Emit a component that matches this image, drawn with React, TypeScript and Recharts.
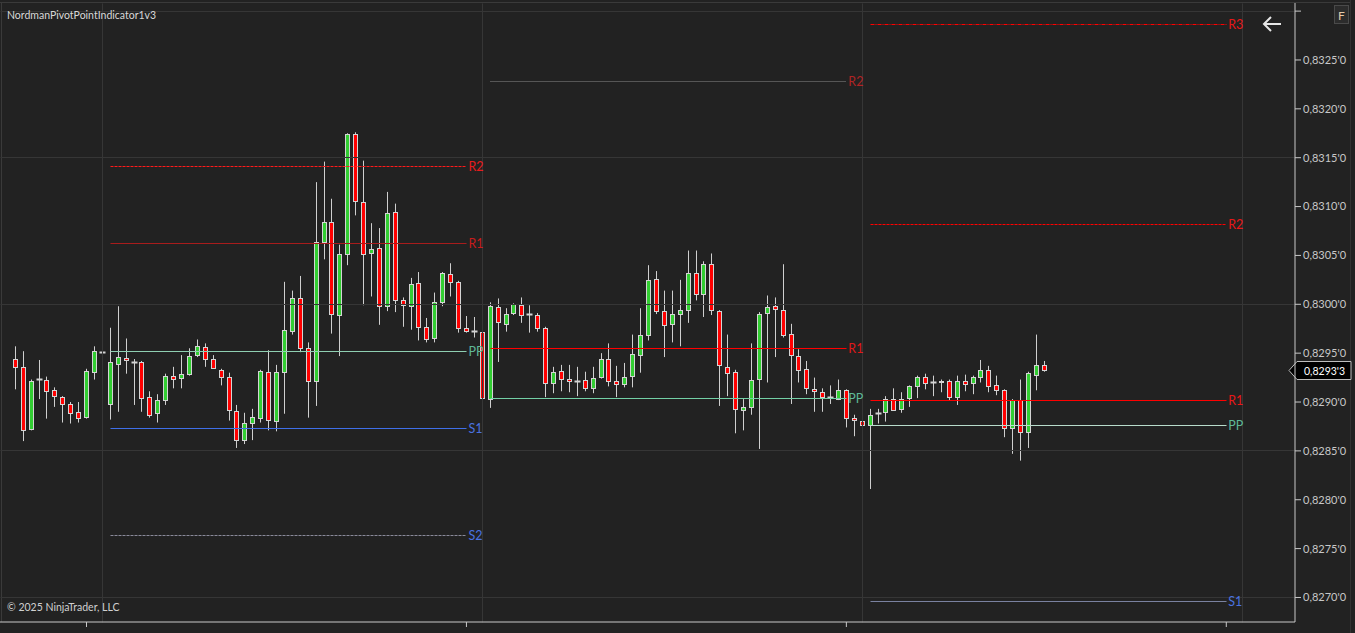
import React from 'react';
import { ComposedChart, Bar, XAxis, YAxis, ReferenceLine } from 'recharts';

// 30 minute bars (price units)
const opens = [
  0.82944, 0.82936, 0.82872, 0.82924, 0.82923, 0.82912, 0.82905, 0.82898, 0.8289, 0.82885,
  0.82931, 0.82951, 0.82898, 0.82939, 0.82945, 0.82941, 0.82941, 0.82905, 0.82889, 0.82902,
  0.82927, 0.82925, 0.82929, 0.82948, 0.82956, 0.82944, 0.82933, 0.82926, 0.82891, 0.82861,
  0.82879, 0.82884, 0.82931, 0.82881, 0.82931, 0.82973, 0.83006, 0.82955, 0.82922, 0.83064,
  0.83084, 0.82989, 0.83051, 0.83174, 0.83105, 0.83052, 0.83058, 0.82998, 0.83094, 0.83004,
  0.82998, 0.83022, 0.82977, 0.82965, 0.83002, 0.83031, 0.83023, 0.82976, 0.82973, 0.82972,
  0.82903, 0.82997, 0.8298, 0.82991, 0.82999, 0.8299, 0.82989, 0.82976, 0.82919, 0.82932,
  0.82924, 0.82922, 0.82923, 0.82914, 0.82926, 0.82944, 0.82922, 0.82918, 0.82927, 0.82948,
  0.82969, 0.83026, 0.82993, 0.8298, 0.8299, 0.82994, 0.83032, 0.83011, 0.83041, 0.82993,
  0.82936, 0.82931, 0.82892, 0.82895, 0.82924, 0.82991, 0.82998, 0.82994, 0.8297, 0.82947,
  0.82934, 0.82913, 0.8291, 0.82905, 0.82903, 0.82912, 0.82884, 0.82881, 0.82876, 0.82889,
  0.8289, 0.82903, 0.82893, 0.82904, 0.82916, 0.82926, 0.8292, 0.8292, 0.82922, 0.82905,
  0.82922, 0.82919, 0.82926, 0.82933, 0.82917, 0.82912, 0.82873, 0.82902, 0.82869, 0.82928,
  0.82938,
];
const highs = [
  0.82957, 0.82952, 0.82923, 0.82943, 0.82926, 0.82915, 0.82906, 0.829, 0.829, 0.82934,
  0.82957, 0.82985, 0.82976, 0.82998, 0.82965, 0.82944, 0.82942, 0.82911, 0.82908, 0.82929,
  0.82936, 0.82948, 0.82955, 0.82964, 0.8296, 0.82948, 0.82934, 0.8293, 0.82897, 0.82889,
  0.82893, 0.82933, 0.82953, 0.82938, 0.83023, 0.83014, 0.83029, 0.82961, 0.83125, 0.83146,
  0.83108, 0.83061, 0.83175, 0.83176, 0.83147, 0.83083, 0.83078, 0.83115, 0.83103, 0.83007,
  0.83027, 0.83033, 0.82986, 0.83012, 0.83033, 0.83042, 0.83024, 0.82988, 0.82987, 0.82993,
  0.83002, 0.83006, 0.82996, 0.83001, 0.83007, 0.82999, 0.82991, 0.82977, 0.82936, 0.82938,
  0.82938, 0.82936, 0.82931, 0.82936, 0.8295, 0.8296, 0.82937, 0.8294, 0.82969, 0.82996,
  0.8304, 0.83034, 0.83014, 0.83014, 0.83025, 0.83055, 0.83055, 0.83044, 0.83052, 0.82994,
  0.82969, 0.82933, 0.82903, 0.8296, 0.82992, 0.83009, 0.83007, 0.83041, 0.8298, 0.82954,
  0.82942, 0.82925, 0.82914, 0.82917, 0.82923, 0.82913, 0.82887, 0.82883, 0.82893, 0.82893,
  0.82906, 0.82914, 0.8291, 0.82917, 0.82927, 0.82929, 0.82927, 0.82923, 0.82923, 0.82927,
  0.82928, 0.82927, 0.82943, 0.82937, 0.82927, 0.82913, 0.82903, 0.82923, 0.82931, 0.82969,
  0.82942,
];
const lows = [
  0.82913, 0.8286, 0.82871, 0.82903, 0.82883, 0.82895, 0.82879, 0.82878, 0.82879, 0.82883,
  0.82923, 0.82939, 0.82882, 0.8289, 0.82929, 0.82897, 0.8289, 0.82884, 0.82879, 0.82897,
  0.82914, 0.82914, 0.82927, 0.82946, 0.82936, 0.82934, 0.82917, 0.82881, 0.82853, 0.82857,
  0.82861, 0.82879, 0.82871, 0.8287, 0.82888, 0.82969, 0.82951, 0.82884, 0.82896, 0.83046,
  0.8297, 0.82947, 0.8304, 0.83091, 0.82999, 0.83008, 0.82979, 0.82993, 0.82992, 0.82977,
  0.82974, 0.82963, 0.82961, 0.82961, 0.82998, 0.83008, 0.82971, 0.82971, 0.82966, 0.82903,
  0.82894, 0.82941, 0.82972, 0.82989, 0.82981, 0.82971, 0.82972, 0.82905, 0.82909, 0.82911,
  0.8291, 0.82906, 0.82911, 0.82909, 0.82924, 0.82916, 0.82905, 0.82915, 0.82915, 0.8293,
  0.82963, 0.8299, 0.82946, 0.82961, 0.82957, 0.82981, 0.83004, 0.82987, 0.82989, 0.82896,
  0.82906, 0.82868, 0.82871, 0.82887, 0.82852, 0.8292, 0.82946, 0.82966, 0.82898, 0.8292,
  0.82908, 0.8289, 0.8289, 0.82898, 0.82902, 0.82874, 0.82865, 0.8286, 0.82811, 0.82878,
  0.8288, 0.82891, 0.82889, 0.82895, 0.82904, 0.82913, 0.82906, 0.8291, 0.82902, 0.82897,
  0.82911, 0.82908, 0.8292, 0.8291, 0.82907, 0.82864, 0.82847, 0.8284, 0.82853, 0.82912,
  0.82931,
];
const closes = [
  0.82936, 0.82871, 0.82922, 0.82924, 0.82911, 0.82906, 0.82898, 0.82889, 0.82884, 0.82932,
  0.82952, 0.82951, 0.82941, 0.82946, 0.82943, 0.82941, 0.82904, 0.82887, 0.82902, 0.82927,
  0.82924, 0.82929, 0.82947, 0.82957, 0.82944, 0.82935, 0.82926, 0.82892, 0.82861, 0.82879,
  0.82885, 0.82932, 0.82882, 0.82931, 0.82974, 0.83006, 0.82955, 0.82921, 0.83064, 0.83084,
  0.8299, 0.83051, 0.83174, 0.83106, 0.83051, 0.83057, 0.82998, 0.83093, 0.83004, 0.82999,
  0.83021, 0.82977, 0.82964, 0.83002, 0.83032, 0.83023, 0.82976, 0.82973, 0.82973, 0.82904,
  0.82998, 0.82982, 0.8299, 0.83, 0.82989, 0.8299, 0.82976, 0.82919, 0.82931, 0.82924,
  0.82922, 0.82922, 0.82914, 0.82925, 0.82944, 0.82922, 0.82918, 0.82926, 0.82949, 0.82969,
  0.83025, 0.82993, 0.82979, 0.8299, 0.82994, 0.83032, 0.83011, 0.83041, 0.82994, 0.82938,
  0.8293, 0.82893, 0.82895, 0.82923, 0.8299, 0.82997, 0.82995, 0.82969, 0.82948, 0.82933,
  0.82914, 0.82911, 0.82905, 0.82905, 0.82912, 0.82884, 0.82882, 0.82876, 0.82887, 0.82889,
  0.82903, 0.82892, 0.82903, 0.82916, 0.82926, 0.82919, 0.8292, 0.82922, 0.82905, 0.82922,
  0.82918, 0.82926, 0.82933, 0.82916, 0.82912, 0.82873, 0.82902, 0.82869, 0.8293, 0.82938,
  0.82933,
];

// daily pivot levels, one column per level name
const pivotNames = ['R3', 'R2', 'R1', 'PP', 'S1', 'S2'];
const sessionStart = [12, 60, 108];
const sessionEnd = [57, 105, 153];
const day1Pivots = [null, 0.83141, 0.83062, 0.82952, 0.82873, 0.82763];
const day2Pivots = [null, 0.83228, 0.82955, 0.82904, null, null];
const day3Pivots = [0.83286, 0.83082, 0.82902, 0.82876, 0.82696, null];

const priceTicks = [0.827, 0.8275, 0.828, 0.8285, 0.829, 0.8295, 0.83, 0.8305, 0.831, 0.8315, 0.832, 0.8325, 0.833];
const gridPrices = [0.833, 0.8315, 0.83, 0.8285, 0.827];
const gridBars = [11, 59, 107, 155];
const timeTicks = [9, 57, 105, 153];

const data = opens.map((o, i) => ({ i, open: o, high: highs[i], low: lows[i], close: closes[i] }));

const pivotStyle: Record<string, { stroke: string; dash?: string; text: string }> = {
  '0R2': { stroke: '#ff1a1a', dash: '3 1', text: '#e81c1c' },
  '0R1': { stroke: '#a81c1c', text: '#c81c1c' },
  '0PP': { stroke: '#8fcfb2', text: '#5fb897' },
  '0S1': { stroke: '#3f6fe8', text: '#4a72e0' },
  '0S2': { stroke: '#8a8a9a', dash: '3 1', text: '#4a72e0' },
  '1R2': { stroke: '#8a8a8a', dash: '1 1', text: '#b02424' },
  '1R1': { stroke: '#ff0000', text: '#e01818' },
  '1PP': { stroke: '#73d0a6', text: '#5fb897' },
  '2R3': { stroke: '#ff0000', dash: '4 1 1 1', text: '#e81818' },
  '2R2': { stroke: '#ff0000', dash: '3 1', text: '#e81818' },
  '2R1': { stroke: '#ff0000', text: '#e81818' },
  '2PP': { stroke: '#b8dccc', text: '#5fb897' },
  '2S1': { stroke: '#7a82a0', text: '#4a72e0' },
};

const snap = (v: number) => Math.round(v - 0.5) + 0.5;

const fmtPrice = (v: number) => {
  const s = v.toFixed(5).replace('.', ',');
  return s.slice(0, -1) + "'" + s.slice(-1);
};

// hairline drawn on whole pixels so thin levels stay crisp
const Hairline = (p: any) => (
  <line
    x1={snap(p.x1)}
    x2={snap(p.x2)}
    y1={snap(p.y1)}
    y2={snap(p.y2)}
    stroke={p.stroke}
    strokeWidth={1}
    strokeDasharray={p.strokeDasharray}
  />
);

const Candle = (props: any) => {
  const { x, y, width, height, payload } = props;
  const { open, close, high, low } = payload;
  const cx = Math.round(x + width / 2) + 0.5;
  const k = high === low ? 0 : height / (high - low);
  const yOf = (v: number) => y + (high - v) * k;
  const top = Math.round(yOf(Math.max(open, close))) + 0.5;
  const bot = Math.round(yOf(Math.min(open, close))) + 0.5;
  const fill = close > open ? '#32cd32' : '#ff0000';
  return (
    <g>
      <line x1={cx} x2={cx} y1={y} y2={y + height} stroke="#cfcfcf" strokeWidth={1} />
      {close === open ? (
        <line x1={cx - 3} x2={cx + 3} y1={top} y2={top} stroke="#d4d4d4" strokeWidth={2} />
      ) : (
        <rect x={cx - 2} y={top} width={4} height={Math.max(bot - top, 1)} fill={fill} stroke="#d4d4d4" strokeWidth={1} />
      )}
    </g>
  );
};

const PriceTag = (props: any) => {
  const { viewBox, value } = props;
  const x0 = viewBox.x + viewBox.width;
  const y0 = Math.round(viewBox.y) + 0.5;
  return (
    <g>
      <polygon
        points={`${x0 - 6},${y0} ${x0 + 2},${y0 - 9} ${x0 + 56},${y0 - 9} ${x0 + 56},${y0 + 9} ${x0 + 2},${y0 + 9}`}
        fill="#000"
        stroke="#bdbdbd"
        strokeWidth={1}
      />
      <text x={x0 + 9} y={y0 + 4} fill="#ffffff" fontSize={10.5}>
        {fmtPrice(value)}
      </text>
    </g>
  );
};

export default function App() {
  const days = [day1Pivots, day2Pivots, day3Pivots];
  const axisColor = '#c8c8c8';
  return (
    <div
      style={{
        position: 'fixed',
        left: 0,
        top: 0,
        width: 1355,
        height: 633,
        background: '#222222',
        fontFamily: 'Lato, "Open Sans", sans-serif',
        overflow: 'hidden',
      }}
    >
      <div style={{ position: 'absolute', left: 0, top: 2, width: 1350, height: 1, background: '#3a3a3a' }} />
      <div style={{ position: 'absolute', left: 1, top: 2, width: 1, height: 620, background: '#3a3a3a' }} />
      <div style={{ position: 'absolute', left: 1350, top: 0, width: 1, height: 633, background: '#333' }} />
      <ComposedChart
        width={1355}
        height={633}
        data={data}
        margin={{ top: 3, right: 5, bottom: 0, left: 0 }}
        style={{ position: 'absolute', left: 0, top: 0 }}
      >
        {gridPrices.map((p) => (
          <ReferenceLine key={'gy' + p} y={p} stroke="#363636" ifOverflow="visible" shape={Hairline} />
        ))}
        {gridBars.map((b) => (
          <ReferenceLine key={'gx' + b} x={b} stroke="#363636" ifOverflow="visible" shape={Hairline} />
        ))}
        <XAxis
          type="number"
          dataKey="i"
          domain={[-1.93, 161.68]}
          allowDataOverflow
          ticks={timeTicks}
          tickFormatter={() => ''}
          height={11}
          tickSize={5}
          axisLine={{ stroke: axisColor }}
          tickLine={{ stroke: axisColor }}
        />
        <YAxis
          type="number"
          orientation="right"
          width={55}
          domain={[0.826749, 0.833083]}
          allowDataOverflow
          ticks={priceTicks}
          interval={0}
          tickFormatter={(v: number) => (v > 0.8328 ? '' : fmtPrice(v))}
          tickSize={6}
          tick={{ fill: axisColor, fontSize: 11 }}
          axisLine={{ stroke: axisColor }}
          tickLine={{ stroke: axisColor }}
        />
        {days.map((levels, d) =>
          levels.map((v, n) => {
            if (v == null) return null;
            const name = pivotNames[n];
            const st = pivotStyle[d + name];
            return (
              <ReferenceLine
                key={d + name}
                segment={[
                  { x: sessionStart[d], y: v },
                  { x: sessionEnd[d], y: v },
                ]}
                stroke={st.stroke}
                strokeDasharray={st.dash}
                ifOverflow="visible"
                shape={Hairline}
                label={{ value: name, position: 'right', fill: st.text, fontSize: 12.5, offset: 2 }}
              />
            );
          })
        )}
        <Bar
          dataKey={(d: any) => [d.low, d.high]}
          barSize={5}
          shape={<Candle />}
          isAnimationActive={false}
        />
        <ReferenceLine
          y={closes[closes.length - 1]}
          stroke="none"
          label={(p: any) => <PriceTag {...p} value={closes[closes.length - 1]} />}
        />
      </ComposedChart>
      <div style={{ position: 'absolute', left: 7, top: 8, fontSize: 10.5, color: '#d8d8d8', lineHeight: '14px' }}>
        NordmanPivotPointIndicator1v3
      </div>
      <div style={{ position: 'absolute', left: 7, top: 600, fontSize: 10.5, color: '#d0d0d0', lineHeight: '14px' }}>
        © 2025 NinjaTrader, LLC
      </div>
      <svg style={{ position: 'absolute', left: 1258, top: 12 }} width={30} height={26}>
        <path d="M6 12 L23 12 M13 5 L6 12 L13 19" stroke="#e6e6e6" strokeWidth={2} fill="none" />
      </svg>
      <div
        style={{
          position: 'absolute',
          left: 1334,
          top: 5,
          width: 15,
          height: 19,
          background: '#2c2c2c',
          border: '1px solid #4a4a4a',
          color: '#e6c9a8',
          fontSize: 12,
          lineHeight: '19px',
          textAlign: 'center',
          boxSizing: 'border-box',
        }}
      >
        F
      </div>
    </div>
  );
}
